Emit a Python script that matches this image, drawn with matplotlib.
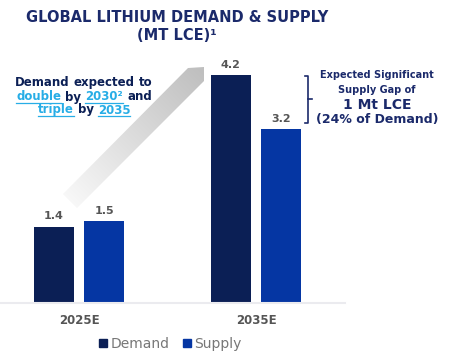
import matplotlib
matplotlib.use("Agg")
import matplotlib.pyplot as plt
import numpy as np
from matplotlib.patches import Polygon
from matplotlib.lines import Line2D

plt.rcParams["font.family"] = ["DejaVu Sans"]

categories = ["2025E", "2035E"]
series_names = ["Demand", "Supply"]
demand = [1.4, 4.2]
supply = [1.5, 3.2]

NAVY = "#0b1f55"
BLUE = "#0536a3"
TITLE = "#1b2a6b"
LIGHT = "#27ade6"
GREY_TXT = "#555555"

W, H = 451, 364
fig = plt.figure(figsize=(W / 100, H / 100), dpi=100)

# main bar axes
ax = fig.add_axes([0, 1 - 302.7 / H, 345 / W, (302.7 - 58.8) / H])
x = np.arange(len(categories))
off, bw = 0.143, 0.226
b1 = ax.bar(x - off, demand, bw, color=NAVY, label=series_names[0])
b2 = ax.bar(x + off, supply, bw, color=BLUE, label=series_names[1])
for bars in (b1, b2):
    ax.bar_label(bars, fmt="%.1f", padding=4, fontsize=8, fontweight="bold", color=GREY_TXT)
ax.set_xlim(-0.446, 1.503)
ax.set_ylim(0, 4.5)
for s in ("top", "left", "right"):
    ax.spines[s].set_visible(False)
ax.spines["bottom"].set_color("#ebebef")
ax.spines["bottom"].set_linewidth(1.5)
ax.set_yticks([])
ax.set_xticks(x)
ax.set_xticklabels(categories, fontsize=8.5, fontweight="bold", color=GREY_TXT)
ax.tick_params(axis="x", length=0, pad=8)

handles = [Line2D([], [], marker="s", ls="", color=NAVY, markersize=6),
           Line2D([], [], marker="s", ls="", color=BLUE, markersize=6)]
fig.legend(handles, series_names, loc="center", bbox_to_anchor=(170 / W, 1 - 344 / H),
           ncol=2, frameon=False, fontsize=10, handlelength=0.7, handletextpad=0.2,
           columnspacing=0.9, labelcolor="#777777")

# overlay in pixel coordinates
ov = fig.add_axes([0, 0, 1, 1])
ov.set_xlim(0, W)
ov.set_ylim(H, 0)
ov.set_axis_off()

# grey gradient arrow
pts = np.array([(63, 194), (77, 208), (204, 81), (204, 67), (188, 68)])
poly = Polygon(pts, closed=True, facecolor="none", edgecolor="none")
ov.add_patch(poly)
gx, gy = np.meshgrid(np.linspace(60, 208, 150), np.linspace(64, 210, 150))
d = np.array([1.0, -1.0]) / np.sqrt(2)
t = ((gx - 70) * d[0] + (gy - 200) * d[1]) / 185
t = np.clip(t, 0, 1)
c0, c1 = np.array([0.97, 0.97, 0.97]), np.array([0.75, 0.75, 0.75])
img = c0[None, None, :] * (1 - t[..., None]) + c1[None, None, :] * t[..., None]
im = ov.imshow(img, extent=(60, 208, 210, 64), origin="upper", aspect="auto", zorder=1)
im.set_clip_path(poly)
ov.set_xlim(0, W)
ov.set_ylim(H, 0)

# titles
ov.text(177, 17, "GLOBAL LITHIUM DEMAND & SUPPLY", ha="center", va="center",
        fontsize=10.5, fontweight="bold", color=TITLE)
ov.text(177, 35, "(MT LCE)¹", ha="center", va="center",
        fontsize=10.5, fontweight="bold", color=TITLE)

renderer = fig.canvas.get_renderer()


def width_of(s, size):
    t = ov.text(0, 0, s, fontsize=size, fontweight="bold")
    w = t.get_window_extent(renderer).width
    t.remove()
    return w


def rich_line(pieces, cx, y, size):
    # y is the baseline in pixels
    words = [p[0] for p in pieces]
    total = width_of(" ".join(words), size)
    x0 = cx - total / 2
    for i, (s, col, ul) in enumerate(pieces):
        w = width_of(s, size)
        start = 0.0 if i == 0 else width_of(" ".join(words[:i + 1]), size) - w
        ov.text(x0 + start, y, s, ha="left", va="baseline", fontsize=size,
                fontweight="bold", color=col)
        if ul:
            ov.plot([x0 + start, x0 + start + w], [y + 2.2, y + 2.2],
                    color=col, lw=0.9)


rich_line([("Demand", NAVY, False), ("expected", NAVY, False), ("to", NAVY, False)], 84, 86, 8.5)
rich_line([("double", LIGHT, True), ("by", NAVY, False), ("2030²", LIGHT, True),
           ("and", NAVY, False)], 84, 100.5, 8.5)
rich_line([("triple", LIGHT, True), ("by", NAVY, False), ("2035", LIGHT, True)], 84, 113.5, 8.5)

# bracket
ov.plot([305, 308.3, 308.3, 305], [76, 76, 123, 123], color=TITLE, lw=1.2)
ov.plot([308.3, 311.7], [99, 99], color=TITLE, lw=1.2)

ov.text(377, 75, "Expected Significant", ha="center", va="center",
        fontsize=7, fontweight="bold", color=TITLE)
ov.text(377, 90, "Supply Gap of", ha="center", va="center",
        fontsize=7, fontweight="bold", color=TITLE)
ov.text(377, 105, "1 Mt LCE", ha="center", va="center",
        fontsize=10, fontweight="bold", color=TITLE)
ov.text(377, 120, "(24% of Demand)", ha="center", va="center",
        fontsize=9, fontweight="bold", color=TITLE)

fig.savefig("out.png", dpi=100)
